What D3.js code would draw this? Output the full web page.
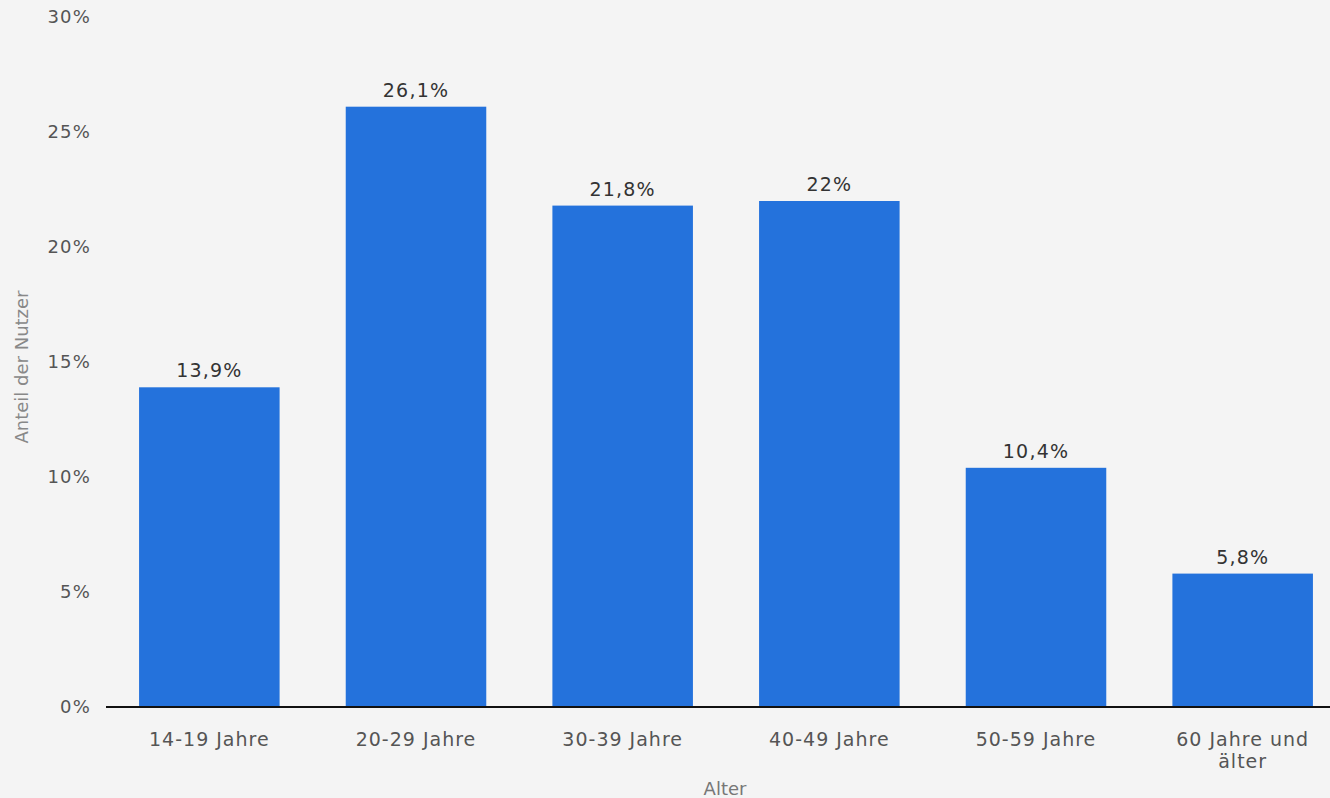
<!DOCTYPE html>
<html><head><meta charset="utf-8">
<script src="https://cdn.jsdelivr.net/npm/d3@7"></script>
<style>
html,body{margin:0;padding:0;background:#f4f4f4;}
svg{display:block;font-family:"DejaVu Sans",sans-serif;}
</style></head>
<body><svg id="c" width="1330" height="798"></svg>
<script>
const categories = ["14-19 Jahre","20-29 Jahre","30-39 Jahre","40-49 Jahre","50-59 Jahre","60 Jahre und älter"];
const values = [13.9, 26.1, 21.8, 22, 10.4, 5.8];
const valueLabels = ["13,9%","26,1%","21,8%","22%","10,4%","5,8%"];
const yTicks = [0,5,10,15,20,25,30];
const yTitle = "Anteil der Nutzer";
const xTitle = "Alter";

const svg = d3.select("#c");
const W = 1330, H = 798;
svg.append("rect").attr("width",W).attr("height",H).attr("fill","#f4f4f4");

const x = d3.scaleBand().domain(categories).range([106,1346]).paddingInner(0.32).paddingOuter(0.16);
const y = d3.scaleLinear().domain([0,30]).range([707,17]);

// y tick labels
const yAxis = d3.axisLeft(y).tickValues(yTicks).tickSize(0).tickPadding(0).tickFormat(d=>d+"%");
const ga = svg.append("g").attr("transform","translate(91,0)").call(yAxis);
ga.select(".domain").remove();
ga.selectAll("text").attr("fill","#555").style("font-size","18px").style("letter-spacing","1.2px").attr("font-family","DejaVu Sans");

// bars
svg.append("g").selectAll("rect").data(values).join("rect")
  .attr("x",(d,i)=>x(categories[i]))
  .attr("width",x.bandwidth())
  .attr("y",d=>y(d))
  .attr("height",d=>y(0)-y(d))
  .attr("fill","#2472dc");

// value labels
svg.append("g").selectAll("text").data(values).join("text")
  .attr("x",(d,i)=>x(categories[i])+x.bandwidth()/2)
  .attr("y",d=>y(d)-10)
  .attr("text-anchor","middle")
  .attr("fill","#333")
  .style("font-size","19px").style("letter-spacing","1.2px")
  .text((d,i)=>valueLabels[i]);

// baseline
svg.append("line").attr("x1",106).attr("x2",W).attr("y1",y(0)).attr("y2",y(0))
  .attr("stroke","#111").attr("stroke-width",2);

// x axis labels
const xAxis = d3.axisBottom(x).tickSize(0).tickPadding(0);
const gx = svg.append("g").attr("transform",`translate(0,${y(0)})`).call(xAxis);
gx.select(".domain").remove();
gx.selectAll("text").remove();
gx.selectAll(".tick").each(function(d){
  const t = d3.select(this).append("text").attr("text-anchor","middle").attr("fill","#555")
    .style("font-size","19px").style("letter-spacing","1px").attr("font-family","DejaVu Sans");
  const lines = d==="60 Jahre und älter" ? ["60 Jahre und","älter"] : [d];
  lines.forEach((l,i)=>t.append("tspan").attr("x",0).attr("y",39+i*22).text(l));
});

// axis titles
svg.append("text").attr("transform","translate(28,367) rotate(-90)").attr("text-anchor","middle")
  .attr("fill","#888").style("font-size","18px").text(yTitle);
svg.append("text").attr("x",725).attr("y",795).attr("text-anchor","middle")
  .attr("fill","#777").style("font-size","18px").text(xTitle);
</script></body></html>
